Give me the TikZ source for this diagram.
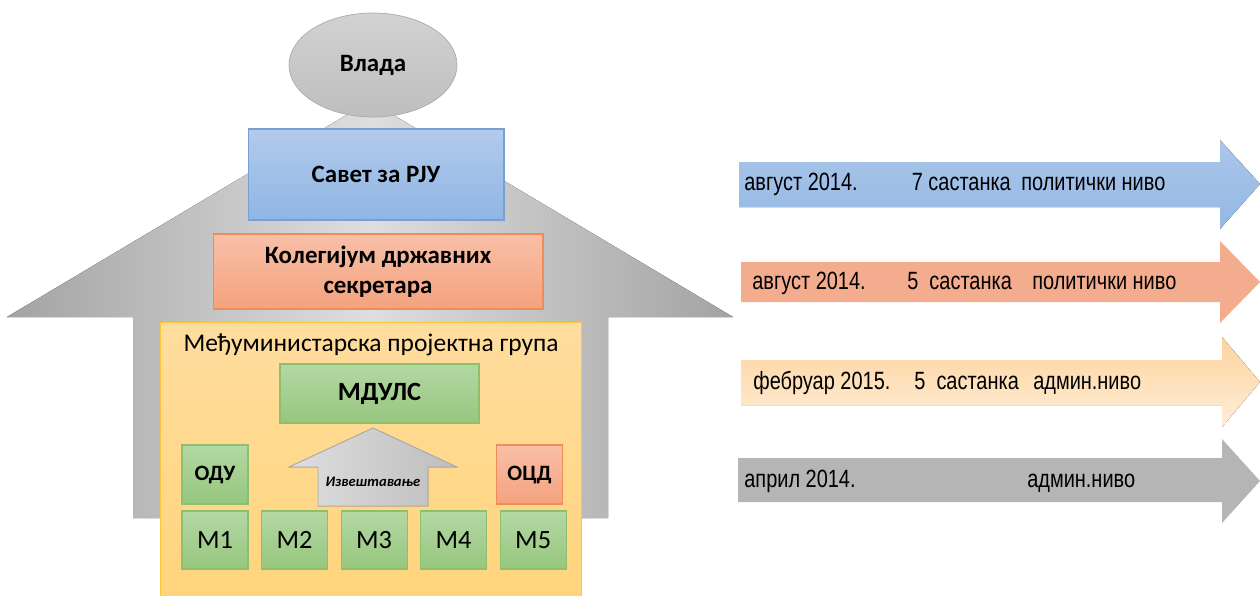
\documentclass[tikz,border=0pt]{standalone}
\usepackage{fontspec}
\setmainfont{Carlito}
\newfontfamily\arrowfont[FakeStretch=0.8]{Liberation Sans}
\usepackage{tikz}
\usetikzlibrary{
  shapes.geometric,
  positioning
}
\definecolor{rjuGray}{RGB}{163,163,163}
\definecolor{rjuLightGray}{RGB}{222,222,222}
\definecolor{rjuOvalTop}{RGB}{210,210,210}
\definecolor{rjuOvalBot}{RGB}{190,190,190}
\definecolor{rjuOvalLine}{RGB}{170,170,170}
\definecolor{rjuBlueTop}{RGB}{178,202,236}
\definecolor{rjuBlueBot}{RGB}{143,182,227}
\definecolor{rjuBlueLine}{RGB}{120,158,212}
\definecolor{rjuSalmonTop}{RGB}{248,192,168}
\definecolor{rjuSalmonBot}{RGB}{244,162,126}
\definecolor{rjuSalmonLine}{RGB}{240,140,90}
\definecolor{rjuGoldTop}{RGB}{255,221,158}
\definecolor{rjuGoldBot}{RGB}{255,212,122}
\definecolor{rjuGoldLine}{RGB}{255,196,60}
\definecolor{rjuGreenTop}{RGB}{180,216,164}
\definecolor{rjuGreenBot}{RGB}{150,199,126}
\definecolor{rjuGreenLine}{RGB}{140,192,110}
\definecolor{rjuArrowBlueTop}{RGB}{170,198,234}
\definecolor{rjuArrowBlueBot}{RGB}{148,184,228}
\definecolor{rjuArrowSalmon}{RGB}{243,172,142}
\definecolor{rjuArrowPeachTop}{RGB}{253,211,158}
\definecolor{rjuArrowPeachBot}{RGB}{255,238,216}
\definecolor{rjuArrowGray}{RGB}{181,181,181}

\begin{document}
\begin{tikzpicture}[
  x=0.02cm, y=-0.02cm,
  font=\fontsize{14.5}{17}\selectfont,
  node distance=0.25cm,
  box/.style={
    draw,
    line width=0.6pt,
    minimum width=1.32cm,
    minimum height=1.18cm,
    inner sep=0pt,
    align=center
  },
  greenbox/.style={
    box,
    top color=rjuGreenTop,
    bottom color=rjuGreenBot,
    draw=rjuGreenLine
  },
  salmonbox/.style={
    box,
    top color=rjuSalmonTop,
    bottom color=rjuSalmonBot,
    draw=rjuSalmonLine
  },
  arrowtext/.style={
    anchor=west,
    inner sep=0pt,
    font=\arrowfont\fontsize{14.2}{16}\selectfont
  }
]
\useasboundingbox (0,0) rectangle (1260,595);

% house
\fill[left color=rjuGray, right color=rjuGray, middle color=rjuLightGray]
  (7,317) -- (370,101) -- (733,317) -- (608,317) -- (608,518)
  -- (133,518) -- (133,317) -- cycle;

\node[ellipse, draw=rjuOvalLine, top color=rjuOvalTop, bottom color=rjuOvalBot,
  minimum width=3.36cm, minimum height=2.08cm,
  font=\bfseries\fontsize{14.2}{17}\selectfont] (vlada) at (373,65) {Влада};
\node[box, minimum width=5.12cm, minimum height=1.82cm,
  top color=rjuBlueTop, bottom color=rjuBlueBot, draw=rjuBlueLine,
  font=\bfseries\fontsize{14.2}{17}\selectfont] (savet) at (376,174.5)
  {Савет за РЈУ};
\node[salmonbox, minimum width=6.6cm, minimum height=1.5cm,
  font=\bfseries\fontsize{14.2}{17}\selectfont] (kolegijum) at (378,271.5)
  {Колегијум државних\\секретара};

% project group
\node[box, minimum width=8.44cm, minimum height=5.8cm,
  top color=rjuGoldTop, bottom color=rjuGoldBot, draw=rjuGoldLine]
  (grupa) at (371,467) {};
\node (naslov) at (371,345) {Међуминистарска пројектна група};
\node[greenbox, minimum width=3.98cm,
  font=\bfseries\fontsize{15}{18}\selectfont] (mduls) at (379.5,393.5) {МДУЛС};
\node[greenbox, font=\bfseries\fontsize{12.5}{15}\selectfont] (odu)
  at (215,474.5) {ОДУ};
\node[salmonbox, font=\bfseries\fontsize{12.5}{15}\selectfont] (ocd)
  at (529.5,474.5) {ОЦД};

\fill[left color=rjuLightGray, right color=rjuOvalBot, draw=rjuOvalLine,
  line width=0.5pt]
  (318,506) -- (318,467) -- (289,467) -- (373,428) -- (457,467)
  -- (428,467) -- (428,506) -- cycle;
\node[font=\bfseries\itshape\fontsize{8.3}{10}\selectfont] (izv)
  at (373,482) {Извештавање};

\node[greenbox, minimum height=1.16cm, font=\fontsize{15}{18}\selectfont]
  (m1) at (215,540) {M1};
\node[greenbox, minimum height=1.16cm, font=\fontsize{15}{18}\selectfont,
  right=of m1] (m2) {M2};
\node[greenbox, minimum height=1.16cm, font=\fontsize{15}{18}\selectfont,
  right=of m2] (m3) {M3};
\node[greenbox, minimum height=1.16cm, font=\fontsize{15}{18}\selectfont,
  right=of m3] (m4) {M4};
\node[greenbox, minimum height=1.16cm, font=\fontsize{15}{18}\selectfont,
  right=of m4] (m5) {M5};

% time line arrows
\fill[top color=rjuArrowBlueTop, bottom color=rjuArrowBlueBot]
  (739,162) -- (1220,162) -- (1220,140) -- (1260,184) -- (1220,229)
  -- (1220,207) -- (739,207) -- cycle;
\fill[rjuArrowSalmon]
  (741,262) -- (1220,262) -- (1220,241) -- (1260,282) -- (1220,323)
  -- (1220,302) -- (741,302) -- cycle;
\fill[top color=rjuArrowPeachTop, bottom color=rjuArrowPeachBot]
  (741,360) -- (1222,360) -- (1222,337) -- (1260,382) -- (1222,427)
  -- (1222,405) -- (741,405) -- cycle;
\fill[rjuArrowGray]
  (738,458) -- (1222,458) -- (1222,439) -- (1260,481) -- (1222,523)
  -- (1222,502) -- (738,502) -- cycle;

\node[arrowtext] (sednice1) at (744,184)
  {\makebox[3.35cm][l]{август 2014.}\makebox[2.19cm][l]{7 састанка}политички ниво};
\node[arrowtext] (sednice2) at (752,283)
  {\makebox[3.1cm][l]{август 2014.}\makebox[2.5cm][l]{5\ \ састанка}политички ниво};
\node[arrowtext] (sednice3) at (753,383)
  {\makebox[3.22cm][l]{фебруар 2015.}\makebox[2.38cm][l]{5\ \ састанка}админ.ниво};
\node[arrowtext] (sednice4) at (744,481)
  {\makebox[5.66cm][l]{април 2014.}админ.ниво};

\end{tikzpicture}
\end{document}
